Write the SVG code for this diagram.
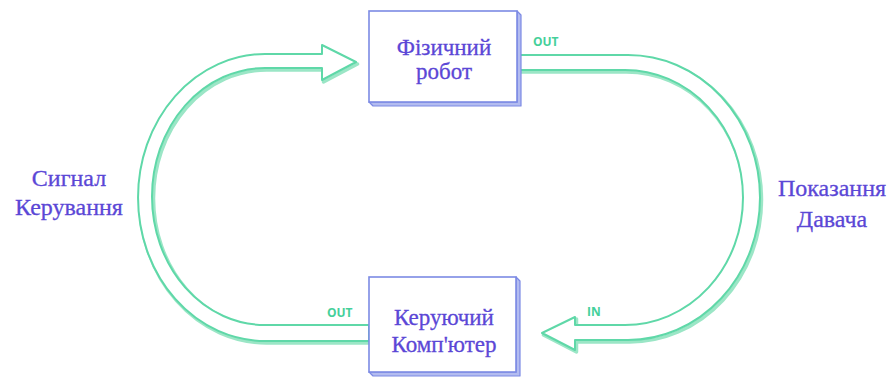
<svg xmlns="http://www.w3.org/2000/svg" width="890" height="378" viewBox="0 0 890 378">
<style>
.band{fill:#fff;stroke:#5fd8a8;stroke-width:2;stroke-linejoin:round}
.bandsh{fill:none;stroke:#9be6c6;stroke-width:3.5;stroke-linejoin:round}
.face{fill:#fff;stroke:#7c8ae4;stroke-width:1.6}
.side{fill:#b3bcf0;stroke:#7c8ae4;stroke-width:1.2;stroke-linejoin:round}
.lbl{font-family:"Liberation Serif","Times New Roman",serif;font-size:24px;fill:#5b47d6;stroke:#5b47d6;stroke-width:0.3;text-anchor:middle}
.box{font-size:23px}
.port{font-family:"Open Sans","Liberation Sans",sans-serif;font-weight:bold;font-size:12px;fill:#45d09a}
</style>
<rect width="890" height="378" fill="#fff"/>
<g id="connectors">
  <g id="control-signal">
    <path class="bandsh" transform="translate(1.5,2)" d="M369,325 H265 A113,128.5 0 0 1 265,68 H322 V80 L356,62 L322,45 V54 H265 A127,143.5 0 0 0 265,341 H369 Z"/>
    <path class="band" d="M369,325 H265 A113,128.5 0 0 1 265,68 H322 V80 L356,62 L322,45 V54 H265 A127,143.5 0 0 0 265,341 H369 Z"/>
  </g>
  <g id="sensor-reading">
    <path class="bandsh" transform="translate(1.5,2)" d="M517,55 H628 A132,142.5 0 0 1 628,340 H575 V350 L542,333 L575,317 V325 H625 A118,127.5 0 0 0 625,70 H517 Z"/>
    <path class="band" d="M517,55 H628 A132,142.5 0 0 1 628,340 H575 V350 L542,333 L575,317 V325 H625 A118,127.5 0 0 0 625,70 H517 Z"/>
  </g>
  <text class="port" x="533" y="46">OUT</text>
  <text class="port" x="327" y="317">OUT</text>
  <text class="port" x="587" y="316">IN</text>
</g>
<g id="robot">
  <polygon class="side" points="517,11 521,15 521,106 373,106 369,102 517,102"/>
  <rect class="face" x="369" y="11" width="148" height="91"/>
  <text class="lbl box" x="444" y="55">Фізичний</text>
  <text class="lbl box" x="444" y="79">робот</text>
</g>
<g id="computer">
  <polygon class="side" points="516,277 520,281 520,376 373,376 369,372 516,372"/>
  <rect class="face" x="369" y="277" width="147" height="95"/>
  <text class="lbl box" x="444" y="325">Керуючий</text>
  <text class="lbl box" x="444" y="352">Комп'ютер</text>
</g>
<g id="label-left">
  <text class="lbl" x="69" y="186">Сигнал</text>
  <text class="lbl" x="69" y="215">Керування</text>
</g>
<g id="label-right">
  <text class="lbl" x="832" y="196">Показання</text>
  <text class="lbl" x="832" y="227">Давача</text>
</g>
</svg>
